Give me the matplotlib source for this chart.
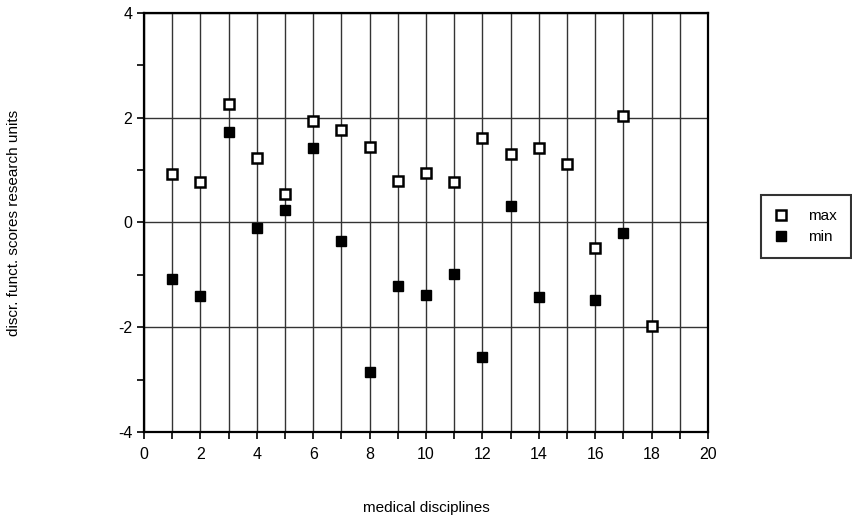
import numpy as np
import matplotlib
matplotlib.use("Agg")
import matplotlib.pyplot as plt
from matplotlib.ticker import MultipleLocator

# ============================================================
# DATA
# ============================================================

disciplines_max = [1, 2, 3, 4, 5, 6, 7, 8, 9, 10, 11, 12, 13, 14, 15, 16, 17, 18]
scores_max = [0.92, 0.77, 2.26, 1.23, 0.55, 1.93, 1.77, 1.44, 0.79, 0.94,
              0.78, 1.61, 1.31, 1.43, 1.12, -0.48, 2.04, -1.97]

disciplines_min = [1, 2, 3, 4, 5, 6, 7, 8, 9, 10, 11, 12, 13, 14, 16, 17]
scores_min = [-1.08, -1.40, 1.72, -0.11, 0.24, 1.43, -0.36, -2.86, -1.22, -1.39,
              -0.98, -2.56, 0.31, -1.42, -1.48, -0.21]

x_ticks = [0, 2, 4, 6, 8, 10, 12, 14, 16, 18, 20]
y_ticks = [-4, -2, 0, 2, 4]

# ============================================================
# PLOT
# ============================================================

plt.rcParams["font.family"] = ["Liberation Sans", "DejaVu Sans"]
plt.rcParams["axes.unicode_minus"] = False

fig = plt.figure(figsize=(8.52, 5.21), dpi=100)
ax = fig.add_axes([0.169, 0.171, 0.662, 0.804])

# grid: every integer on x, every 2 on y
for xv in range(0, 21):
    ax.axvline(xv, color="#333333", lw=1.0, zorder=1)
for yv in y_ticks:
    ax.axhline(yv, color="#333333", lw=1.0, zorder=1)

ax.plot(disciplines_max, scores_max, linestyle="none", marker="s", ms=7,
        mfc="white", mec="black", mew=1.8, label="max", zorder=3)
ax.plot(disciplines_min, scores_min, linestyle="none", marker="s", ms=7,
        mfc="black", mec="black", mew=1.0, label="min", zorder=3)

ax.set_xlim(0, 20)
ax.set_ylim(-4, 4)
ax.set_xticks(x_ticks)
ax.xaxis.set_minor_locator(MultipleLocator(1))
ax.set_yticks(y_ticks)
ax.yaxis.set_minor_locator(MultipleLocator(1))
ax.tick_params(which="both", direction="out", length=5, width=1.2, labelsize=11.5)
ax.tick_params(axis="x", pad=6)

for sp in ax.spines.values():
    sp.set_linewidth(1.6)

ax.set_xlabel("medical disciplines", fontsize=11, labelpad=28)
ax.set_ylabel("discr. funct. scores research units", fontsize=11, labelpad=70)

leg = fig.legend(loc="center left", bbox_to_anchor=(0.884, 0.565),
                 frameon=True, fancybox=False, fontsize=11,
                 handletextpad=1.4, borderpad=0.9, handlelength=0.8,
                 labelspacing=0.45)
leg.get_frame().set_edgecolor("black")
leg.get_frame().set_linewidth(1.5)

fig.savefig("out.png", dpi=100)
